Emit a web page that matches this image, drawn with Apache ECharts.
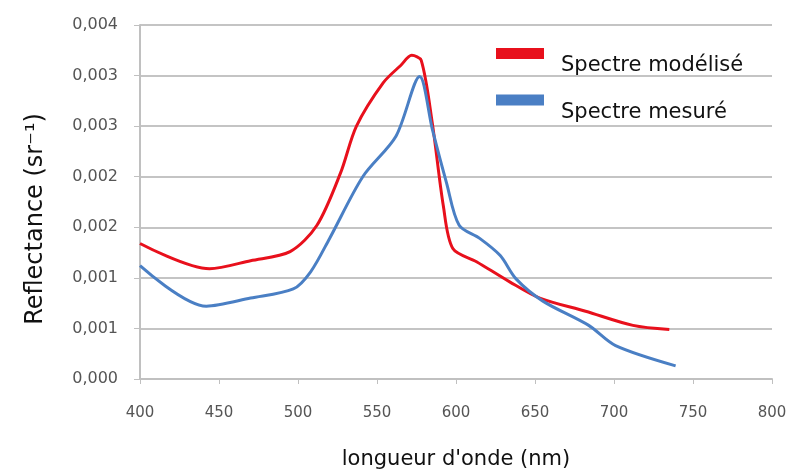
<!DOCTYPE html>
<html>
<head>
<meta charset="utf-8">
<script src="https://cdn.jsdelivr.net/npm/echarts@6/dist/echarts.min.js"></script>
<style>
  html, body { margin: 0; padding: 0; background: #fff; }
  #chart { width: 792px; height: 475px; }
</style>
</head>
<body>
<div id="chart"></div>
<script>
// longueur d'onde (nm) et réflectance
var modeleNm = [400, 444, 470, 495, 512, 527, 537, 554, 565, 572, 578, 585, 592, 598, 613, 634, 653, 682, 712, 735];
var modeleVal = [0.00134, 0.00109, 0.00117, 0.00126, 0.00152, 0.00204, 0.00250, 0.00293, 0.00310, 0.00320, 0.00315, 0.00253, 0.00171, 0.00129, 0.00116, 0.00096, 0.00080, 0.00067, 0.00053, 0.00049];
var mesureNm = [400, 442, 470, 497, 508, 520, 541, 562, 577, 585, 594, 602, 615, 628, 638, 655, 684, 701, 739];
var mesureVal = [0.00112, 0.00072, 0.00080, 0.00089, 0.00106, 0.00139, 0.00200, 0.00240, 0.00299, 0.00247, 0.00194, 0.00152, 0.00139, 0.00122, 0.00099, 0.00077, 0.00053, 0.00033, 0.00013];

function pairs(xs, ys) {
  return xs.map(function (x, i) { return [x, ys[i]]; });
}

var chart = echarts.init(document.getElementById('chart'));
chart.setOption({
  animation: false,
  textStyle: { fontFamily: 'DejaVu Sans' },
  grid: { left: 140, right: 20, top: 25, bottom: 94 },
  legend: {
    left: 491,
    top: 43,
    orient: 'vertical',
    itemWidth: 48,
    itemHeight: 11,
    itemGap: 18,
    icon: 'rect',
    formatter: '{t|{name}}',
    textStyle: {
      rich: {
        t: { fontSize: 21, color: '#111', fontFamily: 'DejaVu Sans', padding: [25, 0, 0, 12] }
      }
    },
    data: ['Spectre modélisé', 'Spectre mesuré']
  },
  xAxis: {
    type: 'value',
    min: 400,
    max: 800,
    interval: 50,
    name: "longueur d'onde (nm)",
    nameLocation: 'middle',
    nameGap: 70,
    nameTextStyle: { fontSize: 21, color: '#111' },
    axisLine: { lineStyle: { color: '#c0c0c0', width: 2 } },
    axisTick: { show: true, length: 5, lineStyle: { color: '#c0c0c0' } },
    axisLabel: { fontSize: 15, color: '#555', margin: 27 },
    splitLine: { show: false }
  },
  yAxis: {
    type: 'value',
    min: 0,
    max: 0.0035,
    interval: 0.0005,
    name: 'Reflectance (sr⁻¹)',
    nameLocation: 'middle',
    nameGap: 92,
    nameTextStyle: { fontSize: 24, color: '#111', padding: [0, 34, 0, 0] },
    axisLine: { show: true, lineStyle: { color: '#c0c0c0', width: 2 } },
    axisTick: { show: true, length: 6, lineStyle: { color: '#c0c0c0' } },
    axisLabel: {
      fontSize: 16,
      color: '#555',
      margin: 22,
      formatter: function (v) {
        return (Math.round(v * 1000 + 1e-9) / 1000).toFixed(3).replace('.', ',');
      }
    },
    splitLine: { lineStyle: { color: '#c4c4c4', width: 2 } }
  },
  series: [
    {
      name: 'Spectre modélisé',
      type: 'line',
      smooth: 0.3,
      showSymbol: false,
      color: '#e8101c',
      lineStyle: { width: 3 },
      data: pairs(modeleNm, modeleVal)
    },
    {
      name: 'Spectre mesuré',
      type: 'line',
      smooth: 0.3,
      showSymbol: false,
      color: '#4a7fc4',
      lineStyle: { width: 3 },
      data: pairs(mesureNm, mesureVal)
    }
  ]
});
</script>
</body>
</html>
